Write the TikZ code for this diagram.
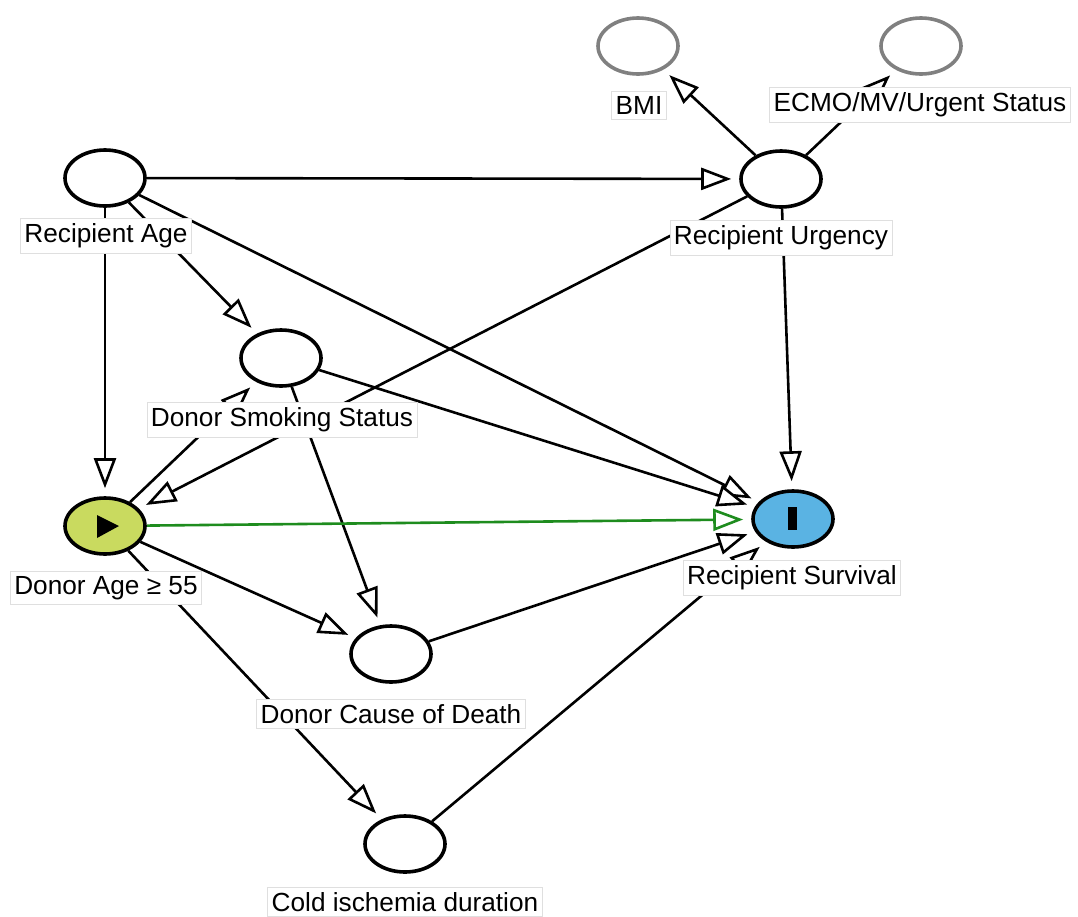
\documentclass[tikz,border=0pt]{standalone}
\usepackage{fontspec}
\setmainfont{Liberation Sans}
\usetikzlibrary{arrows.meta,shapes.geometric}
\definecolor{exposure}{RGB}{201,218,95}
\definecolor{outcome}{RGB}{90,179,227}
\definecolor{causal}{RGB}{30,140,30}

\begin{document}
\begin{tikzpicture}[x=0.5pt,y=-0.5pt,
    var/.style={ellipse, draw=black, line width=1.8pt, fill=white, minimum width=40pt, minimum height=28pt, inner sep=0pt},
    ghost/.style={var, draw=gray},
    lbl/.style={fill=white, draw=gray!25, line width=0.4pt, inner xsep=2pt, inner ysep=2.5pt, font=\fontsize{13.1}{15}\selectfont},
    edge/.style={line width=1.3pt, -{Triangle[fill=white,length=15pt,width=11pt]}, shorten >=4pt}]
    \useasboundingbox (0,0) rectangle (1078,917);

    % variables
    \node[var] (ra) at (105,178) {};
    \node[var] (ru) at (781,179) {};
    \node[ghost] (bmi) at (638,46) {};
    \node[ghost] (ecmo) at (921,46) {};
    \node[var] (dss) at (281,358) {};
    \node[var, fill=exposure] (da) at (105,526) {};
    \node[var, fill=outcome] (rs) at (793,519) {};
    \node[var] (dcd) at (391,654) {};
    \node[var] (ci) at (405,844) {};

    % arrows
    \draw[edge] (ra) -- (ru);
    \draw[edge] (ra) -- (rs);
    \draw[edge] (ra) -- (dss);
    \draw[edge] (ra) -- (da);
    \draw[edge] (ru) -- (bmi);
    \draw[edge] (ru) -- (ecmo);
    \draw[edge] (ru) -- (rs);
    \draw[edge] (ru) -- (da);
    \draw[edge] (dss) -- (rs);
    \draw[edge] (dss) -- (dcd);
    \draw[edge] (da) -- (dss);
    \draw[edge] (da) -- (dcd);
    \draw[edge] (da) -- (ci);
    \draw[edge] (dcd) -- (rs);
    \draw[edge] (ci) -- (rs);
    \draw[edge, draw=causal] (da) -- (rs);

    % markers
    \fill (97,515) -- (97,538) -- (119,526) -- cycle;
    \fill (788,507) rectangle (797,530);

    % names
    \node[lbl] (ra-l) at (106,236) {Recipient Age};
    \node[lbl] (ru-l) at (781,238) {Recipient Urgency};
    \node[lbl] (bmi-l) at (639,105) {BMI};
    \node[lbl] (ecmo-l) at (920,105) {ECMO/MV/Urgent Status};
    \node[lbl] (dss-l) at (282,420) {Donor Smoking Status};
    \node[lbl] (da-l) at (106,588) {Donor Age ≥ 55};
    \node[lbl] (rs-l) at (792,578) {Recipient Survival};
    \node[lbl] (dcd-l) at (391,714) {Donor Cause of Death};
    \node[lbl] (ci-l) at (405,902) {Cold ischemia duration};
\end{tikzpicture}
\end{document}
